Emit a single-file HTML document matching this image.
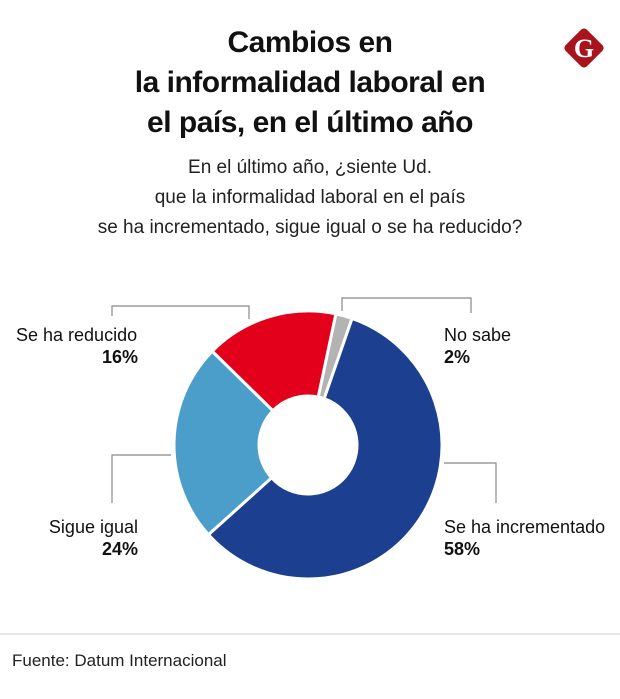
<!DOCTYPE html>
<html><head><meta charset="utf-8"><style>
body{margin:0;background:#fff;font-family:"Liberation Sans",sans-serif;}
#w{position:relative;width:620px;height:699px;overflow:hidden;}
.t{position:absolute;left:0;width:620px;text-align:center;font-weight:bold;font-size:30px;color:#111;letter-spacing:-0.5px}
.s{position:absolute;left:0;width:620px;text-align:center;font-size:19px;color:#222}
</style></head><body><div id="w">
<div class="t" style="top:26px">Cambios en</div>
<div class="t" style="top:66px">la informalidad laboral en</div>
<div class="t" style="top:106px">el país, en el último año</div>
<div class="s" style="top:157px">En el último año, ¿siente Ud.</div>
<div class="s" style="top:187px">que la informalidad laboral en el país</div>
<div class="s" style="top:217px">se ha incrementado, sigue igual o se ha reducido?</div>
<svg width="620" height="699" style="position:absolute;left:0;top:0">
<g><rect x="569" y="33" width="30" height="30" rx="4" fill="#a8141c" transform="rotate(45 584 48)"/><text x="584" y="57" text-anchor="middle" font-family="Liberation Serif" font-weight="bold" font-size="26" fill="#fff">G</text></g>
<g id="slices"></g>
<g fill="none" stroke="#888" stroke-width="1.2">
<polyline points="112,316 112,306 249,306 249,319"/>
<polyline points="342,311 342,298 471,298 471,313"/>
<polyline points="444,463 496,463 496,503"/>
<polyline points="171,455 112,455 112,503"/>
</g>
<g font-family="Liberation Sans" font-size="18" fill="#111">
<text x="16" y="341">Se ha reducido</text>
<text x="138" y="363" text-anchor="end" font-weight="bold">16%</text>
<text x="444" y="341">No sabe</text>
<text x="444" y="363" font-weight="bold">2%</text>
<text x="138" y="533" text-anchor="end">Sigue igual</text>
<text x="138" y="555" text-anchor="end" font-weight="bold">24%</text>
<text x="444" y="533">Se ha incrementado</text>
<text x="444" y="555" font-weight="bold">58%</text>
</g>
<line x1="0" y1="634" x2="620" y2="634" stroke="#ccc"/>
<text x="12" y="666" font-family="Liberation Sans" font-size="17" fill="#222">Fuente: Datum Internacional</text>
</svg>
</div>
<script>
const categories=["No sabe","Se ha incrementado","Sigue igual","Se ha reducido"];
const values=[2,58,24,16];
const colors=["#b3b3b3","#1d3f8f","#4b9dca","#e2001a"];
const cx=308,cy=445,R=134,r=49,start=12;
const g=document.getElementById('slices');
const tot=values.reduce((a,b)=>a+b,0);
function pt(a,rad){const t=(a-90)*Math.PI/180;return [cx+rad*Math.cos(t),cy+rad*Math.sin(t)];}
let a=start;
values.forEach((v,i)=>{const a2=a+v/tot*360;const l=(a2-a)>180?1:0;
const p1=pt(a,R),p2=pt(a2,R),p3=pt(a2,r),p4=pt(a,r);
const p=document.createElementNS('http://www.w3.org/2000/svg','path');
p.setAttribute('d',`M${p1}A${R},${R} 0 ${l} 1 ${p2}L${p3}A${r},${r} 0 ${l} 0 ${p4}Z`);
p.setAttribute('fill',colors[i]);p.setAttribute('stroke','#fff');p.setAttribute('stroke-width','3');


g.appendChild(p);a=a2;});
</script>
</body></html>
